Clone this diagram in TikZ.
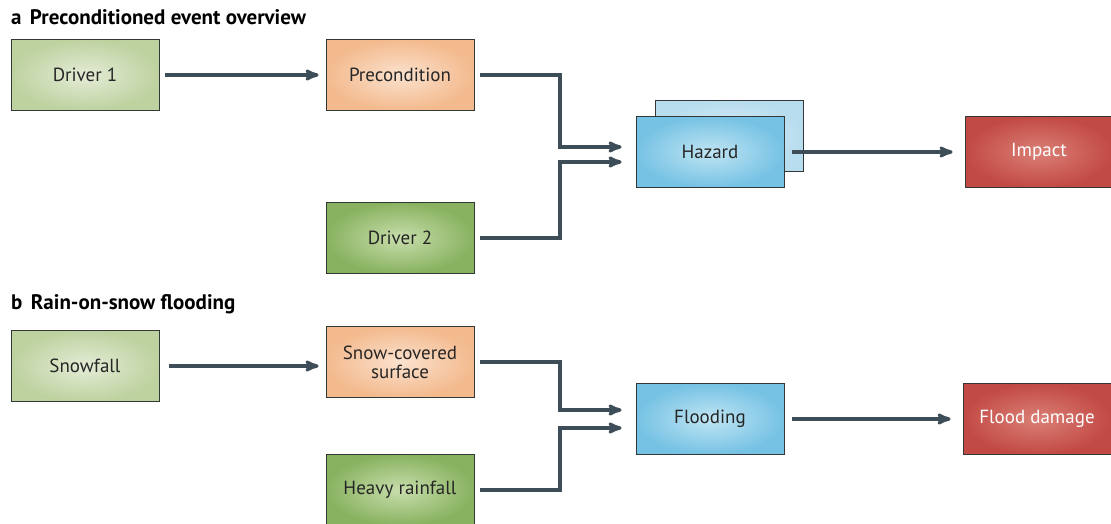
\documentclass[tikz,border=0pt]{standalone}
\usepackage{fontspec}
\setmainfont{PT Sans}
\usepackage{tikz}
\usetikzlibrary{arrows, calc, positioning}
\definecolor{arrowGrey}{RGB}{62,78,88}
\definecolor{boxLine}{RGB}{50,55,55}
\tikzstyle{box}=[draw=boxLine, line width=0.8pt, minimum width=148pt,
  minimum height=71pt, inner sep=2pt, align=center,
  font=\fontsize{19}{22}\selectfont, text=black!85]
\tikzstyle{driverLight}=[box, inner color={rgb,255:red,228;green,236;blue,214},
  outer color={rgb,255:red,190;green,210;blue,160}]
\tikzstyle{driverDark}=[box, inner color={rgb,255:red,200;green,222;blue,172},
  outer color={rgb,255:red,136;green,178;blue,96}]
\tikzstyle{precond}=[box, inner color={rgb,255:red,251;green,226;blue,206},
  outer color={rgb,255:red,243;green,186;blue,142}]
\tikzstyle{hazard}=[box, inner color={rgb,255:red,192;green,229;blue,243},
  outer color={rgb,255:red,118;green,194;blue,228}]
\tikzstyle{hazardBack}=[box, inner color={rgb,255:red,218;green,237;blue,246},
  outer color={rgb,255:red,184;green,221;blue,238}]
\tikzstyle{impact}=[box, inner color={rgb,255:red,218;green,128;blue,118},
  outer color={rgb,255:red,194;green,74;blue,68}, text=white]
\tikzstyle{panelTitle}=[anchor=base west, inner sep=0pt,
  font=\bfseries\fontsize{21}{24}\selectfont]
\tikzstyle{arrow}=[->, line width=3.2pt, >=stealth', draw=arrowGrey,
  shorten <=6pt, shorten >=7pt]

\begin{document}
\begin{tikzpicture}[x=1pt, y=-1pt]
  \useasboundingbox (0,0) rectangle (1111,524);

  % a: overview
  \node[panelTitle] (titleA) at (11,25) {a\hspace{0.4em}Preconditioned event overview};
  \node[driverLight] (driverA) at (85,75) {Driver 1};
  \node[precond] (precondA) at (400,75) {Precondition};
  \node[driverDark] (driverB) at (400,238) {Driver 2};
  \node[hazardBack] (hazardBack) at (729,136) {};
  \node[hazard] (hazard) at (710,152) {Hazard};
  \node[impact] (impact) at (1039,152) {Impact};
  \coordinate (midA) at (560,0);

  \draw[arrow] (driverA) -- (precondA);
  \draw[arrow, shorten >=14pt] (precondA) -- (precondA -| midA)
    |- ([yshift=5pt]hazard.west);
  \draw[arrow, shorten >=14pt] (driverB) -- (driverB -| midA)
    |- ([yshift=-10pt]hazard.west);
  \draw[arrow, shorten <=8pt, shorten >=12pt] (hazard) -- (impact);

  % b: rain-on-snow
  \node[panelTitle] (titleB) at (11,309) {b\hspace{0.4em}Rain-on-snow flooding};
  \node[driverLight] (snowfall) at (85,366) {Snowfall};
  \node[precond] (snowcover) at (400,362) {Snow-covered\\[-3pt]surface};
  \node[driverDark] (rainfall) at (400,490) {Heavy rainfall};
  \node[hazard] (flooding) at (710,419) {Flooding};
  \node[impact] (damage) at (1037,419) {Flood damage};
  \coordinate (midB) at (560,0);

  \draw[arrow, shorten <=10pt] (snowfall) -- (snowfall -| snowcover.west);
  \draw[arrow, shorten >=14pt] (snowcover) -- (snowcover -| midB)
    |- ([yshift=9pt]flooding.west);
  \draw[arrow, shorten >=14pt] (rainfall) -- (rainfall -| midB)
    |- ([yshift=-9pt]flooding.west);
  \draw[arrow, shorten <=8pt, shorten >=12pt] (flooding) -- (damage);
\end{tikzpicture}
\end{document}
